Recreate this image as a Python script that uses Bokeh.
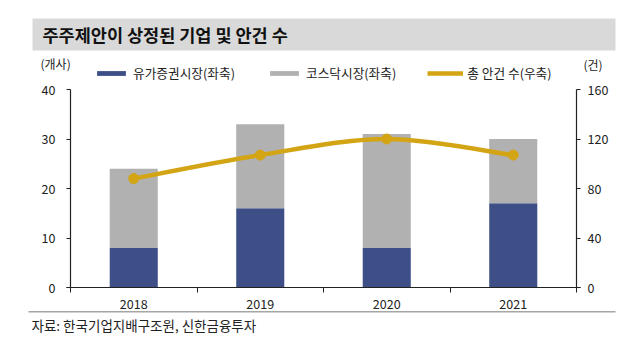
from bokeh.plotting import figure
from bokeh.models import (Range1d, LinearAxis, FixedTicker, Legend, LegendItem, Label,
                          BoxAnnotation, ColumnDataSource)
from bokeh.embed import file_html
from bokeh.resources import INLINE

# ---- data ----
years = ["2018", "2019", "2020", "2021"]
kospi = [8, 16, 8, 17]          # 유가증권시장 (left axis)
kosdaq = [16, 17, 23, 13]       # 코스닥시장 (left axis)
total_items = [88, 107, 120, 107]  # 총 안건 수 (right axis)
left_ticks = [0, 10, 20, 30, 40]
right_ticks = [0, 40, 80, 120, 160]

BLUE = "#3e4f88"
GRAY = "#b1b1b1"
GOLD = "#d3a514"
FONT = "Noto Sans CJK KR"

W, H = 640, 342
# plot area in canvas pixels
PL, PR, PT, PB = 70, 576, 89, 287

ncat = len(years)
xpos = [i + 0.5 for i in range(ncat)]
xppu = (PR - PL) / ncat
x_start = -PL / xppu
x_end = ncat + (W - PR) / xppu
lppu = (PB - PT) / (left_ticks[-1] - left_ticks[0])
y_start = left_ticks[0] - (H - PB) / lppu
y_end = left_ticks[-1] + PT / lppu
ratio = (right_ticks[-1] - right_ticks[0]) / (left_ticks[-1] - left_ticks[0])

p = figure(width=W, height=H, output_backend="svg", toolbar_location=None,
           x_range=Range1d(x_start, x_end), y_range=Range1d(y_start, y_end),
           min_border=0)
p.extra_y_ranges = {"right": Range1d(y_start * ratio, y_end * ratio)}
p.grid.visible = False
p.outline_line_color = None
p.background_fill_color = "white"
p.border_fill_color = "white"

# stacked bars
src = ColumnDataSource(dict(x=xpos, kospi=kospi, kosdaq=kosdaq))
bars = p.vbar_stack(["kospi", "kosdaq"], x="x", width=0.38, color=[BLUE, GRAY],
                    line_color=None, source=src)

# smooth line (Catmull-Rom bezier through the data points)
n = len(xpos)
x0s, y0s, x1s, y1s, cx0s, cy0s, cx1s, cy1s = [], [], [], [], [], [], [], []
for i in range(n - 1):
    xa_, ya_ = xpos[i], total_items[i]
    xb_, yb_ = xpos[i + 1], total_items[i + 1]
    xp_, yp_ = (xpos[i - 1], total_items[i - 1]) if i > 0 else (xa_, ya_)
    xn_, yn_ = (xpos[i + 2], total_items[i + 2]) if i + 2 < n else (xb_, yb_)
    x0s.append(xa_); y0s.append(ya_); x1s.append(xb_); y1s.append(yb_)
    cx0s.append(xa_ + (xb_ - xp_) / 6); cy0s.append(ya_ + (yb_ - yp_) / 6)
    cx1s.append(xb_ - (xn_ - xa_) / 6); cy1s.append(yb_ - (yn_ - ya_) / 6)
line_r = p.bezier(x0=x0s, y0=y0s, x1=x1s, y1=y1s, cx0=cx0s, cy0=cy0s, cx1=cx1s, cy1=cy1s,
                  line_color=GOLD, line_width=4.5, y_range_name="right")
mark_r = p.scatter(xpos, total_items, size=10, color=GOLD, y_range_name="right")

AX = "#222222"

def style(ax, size="12.5px"):
    ax.axis_line_color = AX
    ax.axis_line_width = 1.2
    ax.major_tick_line_color = AX
    ax.minor_tick_line_color = AX
    ax.major_label_text_font = FONT
    ax.major_label_text_font_size = size
    ax.major_label_text_color = AX

# x axis
ext = 4 / xppu
xa = p.below[0]
xa.fixed_location = left_ticks[0]
xa.bounds = (-ext, ncat + ext)
xa.ticker = FixedTicker(ticks=xpos, minor_ticks=list(range(ncat + 1)))
xa.major_label_overrides = {x: y for x, y in zip(xpos, years)}
xa.major_tick_out = 0
xa.major_tick_in = 0
xa.minor_tick_out = 5
xa.minor_tick_in = 0
xa.major_label_standoff = 6
style(xa)

# left axis
ya = p.left[0]
ya.fixed_location = 0
ya.bounds = (left_ticks[0], left_ticks[-1])
ya.ticker = FixedTicker(ticks=left_ticks, minor_ticks=[])
ya.major_tick_out = 4
ya.major_tick_in = 0
ya.minor_tick_out = 0
ya.major_label_standoff = 11
style(ya)

# right axis
ra = LinearAxis(y_range_name="right", ticker=FixedTicker(ticks=right_ticks, minor_ticks=[]))
ra.fixed_location = ncat
ra.bounds = (right_ticks[0], right_ticks[-1])
ra.major_tick_out = 4
ra.major_tick_in = 0
ra.minor_tick_out = 0
ra.major_label_standoff = 7
style(ra)
p.add_layout(ra, "right")

# legend
legend = Legend(items=[
    LegendItem(label="유가증권시장(좌축)", renderers=[bars[0]]),
    LegendItem(label="코스닥시장(좌축)", renderers=[bars[1]]),
    LegendItem(label="총 안건 수(우축)", renderers=[line_r, mark_r]),
], orientation="horizontal", location=(93, H - 82), glyph_width=36, glyph_height=6,
    label_text_font=FONT, label_text_font_size="12.7px", label_text_color=AX,
    label_standoff=4, spacing=31, padding=0, margin=0, border_line_color=None,
    background_fill_alpha=0)
p.add_layout(legend, "center")

def scr_label(x, y, text, size, **kw):
    p.add_layout(Label(x=x, y=H - y, x_units="screen", y_units="screen", text=text,
                       text_font=FONT, text_font_size=size, text_baseline="middle",
                       **kw))

# title bar
p.add_layout(BoxAnnotation(left=32, right=615, top=H - 18, bottom=H - 50,
                           left_units="screen", right_units="screen",
                           top_units="screen", bottom_units="screen",
                           fill_color="#d9d9d9", fill_alpha=1, line_color=None))
scr_label(42, 34, "주주제안이 상정된 기업 및 안건 수", "17.5px", text_font_style="bold",
          text_color="#111111", text_align="left")
scr_label(40, 63, "(개사)", "12px", text_color=AX, text_align="left")
scr_label(583, 64, "(건)", "12px", text_color=AX, text_align="left")
# bottom separator and source
p.add_layout(BoxAnnotation(left=28, right=615, top=H - 310.5, bottom=H - 312,
                           left_units="screen", right_units="screen",
                           top_units="screen", bottom_units="screen",
                           fill_color="#a6a6a6", fill_alpha=1, line_color=None))
scr_label(31, 324, "자료: 한국기업지배구조원, 신한금융투자", "13.5px", text_color=AX,
          text_align="left")

open("out.html", "w").write(file_html(p, INLINE))
